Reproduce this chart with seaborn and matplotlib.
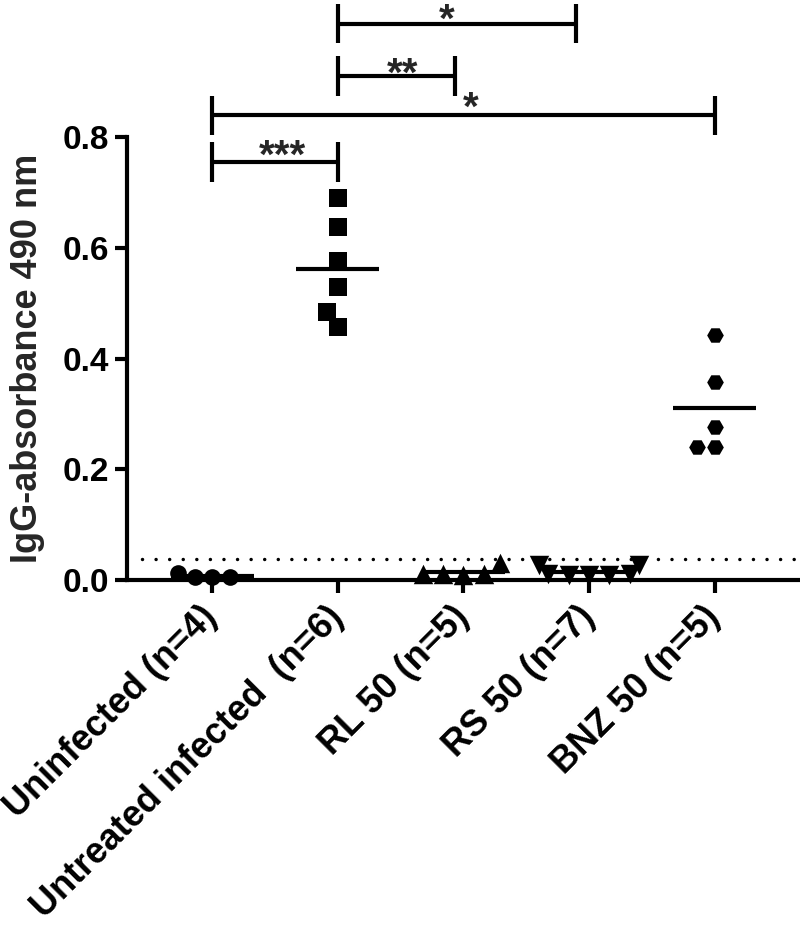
import numpy as np
import pandas as pd
import matplotlib
matplotlib.use("Agg")
import matplotlib.pyplot as plt
import matplotlib.transforms as mtransforms
import seaborn as sns

# group labels (as printed under the axis)
groups = ["Uninfected (n=4)", "Untreated infected  (n=6)", "RL 50 (n=5)",
          "RS 50 (n=7)", "BNZ 50 (n=5)"]

# IgG absorbance at 490 nm, one value per animal
uninfected = [0.005, 0.005, 0.006, 0.013]
untreated = [0.690, 0.637, 0.576, 0.529, 0.484, 0.457]
rl50 = [0.031, 0.010, 0.009, 0.010, 0.011]
rs50 = [0.027, 0.027, 0.009, 0.009, 0.010, 0.009, 0.010]
bnz50 = [0.442, 0.358, 0.276, 0.240, 0.240]
values = [uninfected, untreated, rl50, rs50, bnz50]

group_markers = ["o", "s", "^", "v", "H"]
marker_sizes = [12, 13, 14, 14, 12]

cutoff = 0.037
yticks = [0.0, 0.2, 0.4, 0.6, 0.8]

# significance brackets: start group, end group, height, stars, star position
br_start = [0, 0, 1, 1]
br_end = [1, 4, 1.93, 2.9]
br_y = [0.755, 0.839, 0.911, 1.005]
br_text = ["***", "*", "**", "*"]
br_text_x = [0.557, 2.06, 1.515, 1.87]
br_text_y = [0.786, 0.872, 0.934, 1.031]

df = pd.DataFrame({
    "group": np.repeat(groups, [len(v) for v in values]),
    "value": np.concatenate(values),
})

sns.set_style("ticks")
plt.rcParams["font.family"] = ["Liberation Sans", "DejaVu Sans"]
plt.rcParams["font.weight"] = "bold"

fig = plt.figure(figsize=(8, 9.32), dpi=100)
ax = fig.add_axes([0.159, 0.3777, 0.841, 0.6223])

for g, m, s in zip(groups, group_markers, marker_sizes):
    sns.swarmplot(data=df[df["group"] == g], x="group", y="value", order=groups,
                  marker=m, size=s, color="black", linewidth=0, ax=ax,
                  clip_on=False, zorder=3)

# mean lines
means = df.groupby("group", sort=False)["value"].mean()
for i, g in enumerate(groups):
    ax.hlines(means[g], i - 0.33, i + 0.33, color="black", lw=3, zorder=4,
              clip_on=False)

# detection cut-off
ax.axhline(cutoff, xmin=0.022, xmax=1, color="black", lw=2.5,
           linestyle=(0, (0.01, 3.9)), dash_capstyle="round", zorder=2)

# brackets
h = 0.036
star_size = 29
star_drop = 0.57 * star_size / 72 * 100 * (0.8 / 443)  # glyph centre above baseline
for x1, x2, y, t, tx, ty in zip(br_start, br_end, br_y, br_text, br_text_x, br_text_y):
    ax.plot([x1, x2], [y, y], color="black", lw=3, clip_on=False,
            solid_capstyle="butt")
    ax.plot([x1, x1], [y - h, y + h], color="black", lw=3, clip_on=False,
            solid_capstyle="butt")
    ax.plot([x2, x2], [y - h, y + h], color="black", lw=3, clip_on=False,
            solid_capstyle="butt")
    ax.text(tx, ty - star_drop, t, ha="center", va="baseline",
            fontsize=star_size, fontweight="bold")

ax.set_xlim(-0.676, 4.68)
ax.set_ylim(0, 1.0475)
ax.set_yticks(yticks)
ax.set_yticklabels([f"{v:.1f}" for v in yticks], fontsize=24, fontweight="bold")
ax.set_xticks(range(len(groups)))
ax.set_xticklabels(groups, fontsize=26, fontweight="bold", rotation=45,
                   ha="right", va="center", rotation_mode="anchor")
shift = mtransforms.ScaledTranslation(6 / 100, -2 / 100, fig.dpi_scale_trans)
for lab in ax.get_xticklabels():
    lab.set_transform(lab.get_transform() + shift)
ax.set_xlabel("")
ax.set_ylabel("IgG-absorbance 490 nm", fontsize=26, fontweight="bold")
ax.yaxis.set_label_coords(-0.122, 0.4 / 1.0475)

sns.despine(ax=ax)
ax.spines["left"].set_bounds(0, 0.8)
for side in ["left", "bottom"]:
    ax.spines[side].set_linewidth(3)
    ax.spines[side].set_color("black")
ax.tick_params(axis="both", direction="out", length=9, width=3, color="black",
               labelcolor="black")
ax.tick_params(axis="x", pad=14)
ax.tick_params(axis="y", pad=4)

fig.savefig("out.png", dpi=100)
